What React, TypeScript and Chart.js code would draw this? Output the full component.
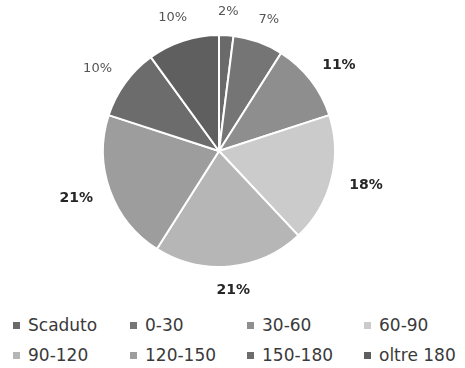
import React, { useEffect, useRef } from "react";
import { Chart, registerables } from "chart.js";

Chart.register(...registerables);

const categories = ["Scaduto", "0-30", "30-60", "60-90", "90-120", "120-150", "150-180", "oltre 180"];
const values = [2, 7, 11, 18, 21, 21, 10, 10];
const pctLabels = ["2%", "7%", "11%", "18%", "21%", "21%", "10%", "10%"];
const boldLabel = [false, false, true, true, true, true, false, false];
const colors = ["#6a6a6a", "#757575", "#8e8e8e", "#cbcbcb", "#b6b6b6", "#9d9d9d", "#6c6c6c", "#5f5f5f"];

const labelPlugin = {
  id: "outsideLabels",
  afterDatasetsDraw(chart: any) {
    const ctx = chart.ctx;
    const meta = chart.getDatasetMeta(0);
    meta.data.forEach((arc: any, i: number) => {
      const mid = (arc.startAngle + arc.endAngle) / 2;
      const R = arc.outerRadius + 24;
      const bold = boldLabel[i];
      ctx.save();
      ctx.font = (bold ? "bold 14px" : "13px") + " 'DejaVu Sans'";
      ctx.fillStyle = bold ? "#262626" : "#555555";
      const w = ctx.measureText(pctLabels[i]).width;
      const x = arc.x + Math.cos(mid) * R + Math.cos(mid) * w * 0.35;
      const y = arc.y + Math.sin(mid) * R;
      ctx.textAlign = "center";
      ctx.textBaseline = "middle";
      ctx.fillText(pctLabels[i], x, y);
      ctx.restore();
    });
  },
};

export default function App() {
  const ref = useRef<HTMLCanvasElement>(null);
  useEffect(() => {
    document.body.style.margin = "0";
    const chart = new Chart(ref.current!, {
      type: "pie",
      data: {
        labels: categories,
        datasets: [
          {
            data: values,
            backgroundColor: colors,
            borderColor: "#ffffff",
            borderWidth: 2,
          },
        ],
      },
      options: {
        animation: false,
        responsive: false,
        maintainAspectRatio: false,
        layout: { padding: { left: 102, right: 129, top: 34, bottom: 32 } },
        plugins: { legend: { display: false }, tooltip: { enabled: false } },
      },
      plugins: [labelPlugin],
    });
    return () => chart.destroy();
  }, []);

  return (
    <div style={{ position: "relative", width: 465, height: 368, background: "#fff", fontFamily: "'DejaVu Sans'" }}>
      <canvas ref={ref} width={465} height={300} style={{ position: "absolute", left: 0, top: 0 }} />
      {categories.map((c, i) => {
        const col = i % 4;
        const row = Math.floor(i / 4);
        return (
          <div
            key={c}
            style={{
              position: "absolute",
              left: 13 + col * 117,
              top: 314 + row * 30,
              height: 22,
              display: "flex",
              alignItems: "center",
              fontSize: 17,
              color: "#3a3a3a",
              whiteSpace: "nowrap",
            }}
          >
            <span style={{ display: "inline-block", width: 7, height: 7, background: colors[i], marginRight: 8 }} />
            {c}
          </div>
        );
      })}
    </div>
  );
}
